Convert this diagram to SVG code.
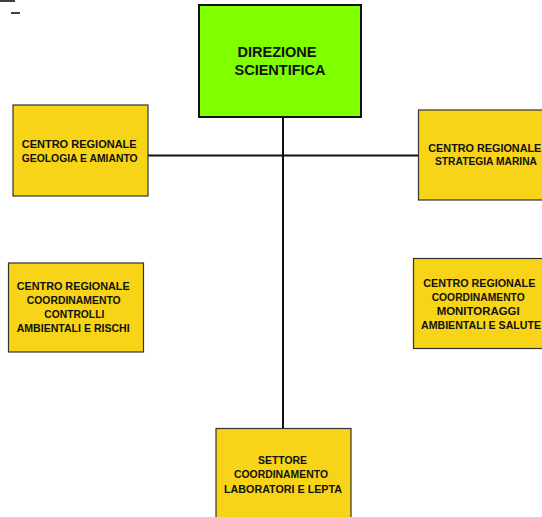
<svg xmlns="http://www.w3.org/2000/svg" width="542" height="517" viewBox="0 0 542 517">
  <style>
    .box { fill: #F7D417; stroke: #333333; stroke-width: 1.2; }
    .main { fill: #80FF00; stroke: #111111; stroke-width: 2; }
    .t { font-family: "Liberation Sans", Arial, sans-serif; font-weight: bold; font-size: 10.6px; fill: #111111; }
    .tm { font-family: "Liberation Sans", Arial, sans-serif; font-weight: bold; font-size: 14.5px; fill: #111111; text-anchor: middle; }
    .conn { stroke: #111111; stroke-width: 2; fill: none; }
  </style>
  <rect x="0" y="0" width="542" height="517" fill="#FFFFFF"/>
  <g id="fragments">
    <line x1="0" y1="1" x2="15" y2="1" stroke="#111" stroke-width="1.6"/>
    <line x1="11" y1="13" x2="20" y2="13" stroke="#111" stroke-width="1.6"/>
  </g>
  <g id="connectors">
    <line class="conn" x1="283" y1="117" x2="283" y2="428"/>
    <line class="conn" x1="148" y1="155.5" x2="418" y2="155.5"/>
  </g>
  <g id="direzione">
    <rect class="main" x="199" y="5" width="162" height="112"/>
    <text class="tm" x="277" y="56.5">DIREZIONE</text>
    <text class="tm" x="280" y="75">SCIENTIFICA</text>
  </g>
  <g id="geologia">
    <rect class="box" x="13" y="105" width="135" height="91"/>
    <text class="t" x="21.7" y="147.7" textLength="115" lengthAdjust="spacingAndGlyphs">CENTRO REGIONALE</text>
    <text class="t" x="21.7" y="162" textLength="116" lengthAdjust="spacingAndGlyphs">GEOLOGIA E AMIANTO</text>
  </g>
  <g id="marina">
    <rect class="box" x="418.5" y="110" width="126" height="90"/>
    <text class="t" x="428.3" y="151.7" textLength="113" lengthAdjust="spacingAndGlyphs">CENTRO REGIONALE</text>
    <text class="t" x="435" y="165.3" textLength="102" lengthAdjust="spacingAndGlyphs">STRATEGIA MARINA</text>
  </g>
  <g id="controlli">
    <rect class="box" x="8.5" y="263" width="135" height="89"/>
    <text class="t" x="16.7" y="290" textLength="113" lengthAdjust="spacingAndGlyphs">CENTRO REGIONALE</text>
    <text class="t" x="26.7" y="304.2" textLength="94" lengthAdjust="spacingAndGlyphs">COORDINAMENTO</text>
    <text class="t" x="44.3" y="318.3" textLength="60" lengthAdjust="spacingAndGlyphs">CONTROLLI</text>
    <text class="t" x="16.7" y="332.3" textLength="113" lengthAdjust="spacingAndGlyphs">AMBIENTALI E RISCHI</text>
  </g>
  <g id="monitoraggi">
    <rect class="box" x="413.5" y="258.5" width="131" height="90"/>
    <text class="t" x="423.3" y="286.5" textLength="112" lengthAdjust="spacingAndGlyphs">CENTRO REGIONALE</text>
    <text class="t" x="431.7" y="300.5" textLength="93" lengthAdjust="spacingAndGlyphs">COORDINAMENTO</text>
    <text class="t" x="436.7" y="314.5" textLength="83" lengthAdjust="spacingAndGlyphs">MONITORAGGI</text>
    <text class="t" x="421" y="328.5" textLength="120" lengthAdjust="spacingAndGlyphs">AMBIENTALI E SALUTE</text>
  </g>
  <g id="laboratori">
    <rect class="box" x="216" y="428.5" width="135" height="95"/>
    <text class="t" x="258" y="464" textLength="49" lengthAdjust="spacingAndGlyphs">SETTORE</text>
    <text class="t" x="234" y="478.3" textLength="94" lengthAdjust="spacingAndGlyphs">COORDINAMENTO</text>
    <text class="t" x="224" y="492.5" textLength="118" lengthAdjust="spacingAndGlyphs">LABORATORI E LEPTA</text>
  </g>
</svg>
